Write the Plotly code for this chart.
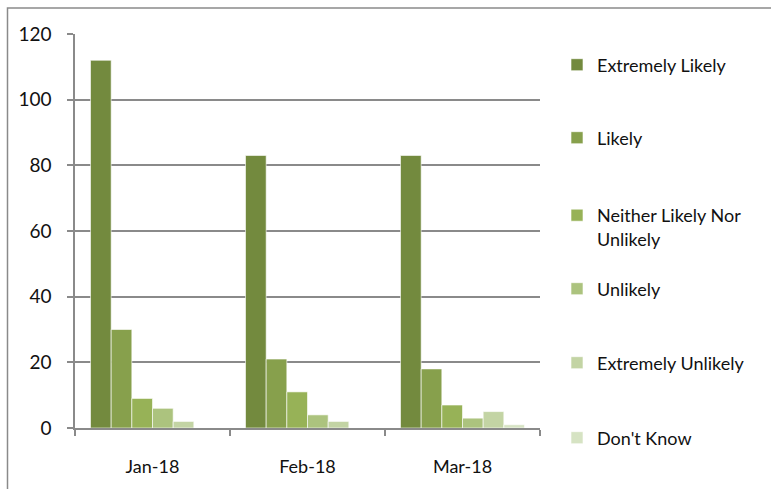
import plotly.graph_objects as go

months = ["Jan-18", "Feb-18", "Mar-18"]
series_names = ["Extremely Likely", "Likely", "Neither Likely Nor<br>Unlikely",
                "Unlikely", "Extremely Unlikely", "Don't Know"]
extremely_likely = [112, 83, 83]
likely = [30, 21, 18]
neither = [9, 11, 7]
unlikely = [6, 4, 3]
extremely_unlikely = [2, 2, 5]
dont_know = [0, 0, 1]
y_ticks = [0, 20, 40, 60, 80, 100, 120]

values = [extremely_likely, likely, neither, unlikely, extremely_unlikely, dont_know]
colors = ["#738a3e", "#87a04c", "#97b257", "#acc37e", "#c3d4a4", "#d6e3c3"]
legend_y_px = [65, 138, 213, 289, 363, 438]

W, H = 771, 489
L, R, T, B = 75, 231, 34, 61
pw, ph = W - L - R, H - T - B

def px_x(x):
    return (x - L) / pw

def px_y(y):
    return (H - B - y) / ph

FONT = "Lato, 'Noto Sans', sans-serif"

fig = go.Figure()
layout_legends = {}
for i, (name, vals, col) in enumerate(zip(series_names, values, colors)):
    lname = "legend" if i == 0 else f"legend{i+1}"
    fig.add_trace(go.Bar(
        x=months, y=vals, name=name, legend=lname,
        marker=dict(color=col, line=dict(color="rgba(255,255,255,0.6)", width=1)),
    ))
    if i == 2:
        ycen = legend_y_px[i] + 14
    else:
        ycen = legend_y_px[i]
    layout_legends[lname] = dict(
        x=px_x(557), xanchor="left", y=px_y(ycen), yanchor="middle",
        font=dict(family=FONT, size=18, color="#111111"),
        bgcolor="rgba(0,0,0,0)", valign="top",
    )

fig.update_layout(
    width=W, height=H,
    margin=dict(l=L, r=R, t=T, b=B),
    paper_bgcolor="white", plot_bgcolor="white",
    barmode="group", bargap=0.2, bargroupgap=0,
    font=dict(family=FONT, size=18, color="#111111"),
    showlegend=True,
    **layout_legends,
)
fig.update_xaxes(
    showline=True, linecolor="#8a8a8a", linewidth=1.5,
    ticks="outside", tickson="boundaries", ticklen=6, tickcolor="#8a8a8a", tickwidth=1.5,
    showgrid=False, ticklabelstandoff=22,
    tickfont=dict(family=FONT, size=18, color="#111111"),
)
fig.update_yaxes(
    range=[0, 120], tickvals=y_ticks,
    showline=True, linecolor="#8a8a8a", linewidth=1.5,
    ticks="outside", ticklen=6, tickcolor="#8a8a8a", tickwidth=1.5,
    showgrid=True, gridcolor="#8a8a8a", gridwidth=1.5, zeroline=False,
    ticklabelstandoff=12,
    tickfont=dict(family=FONT, size=19, color="#111111"),
)
fig.add_shape(
    type="path", xref="paper", yref="paper",
    path=f"M {px_x(7.5)} {px_y(500)} L {px_x(7.5)} {px_y(8)} L {px_x(790)} {px_y(8)}",
    line=dict(color="#8a8a8a", width=1.5),
)
fig.write_html(
    "out.html",
    config={"displayModeBar": False},
    post_script="document.body.style.margin='0';document.body.style.overflow='hidden';",
)
